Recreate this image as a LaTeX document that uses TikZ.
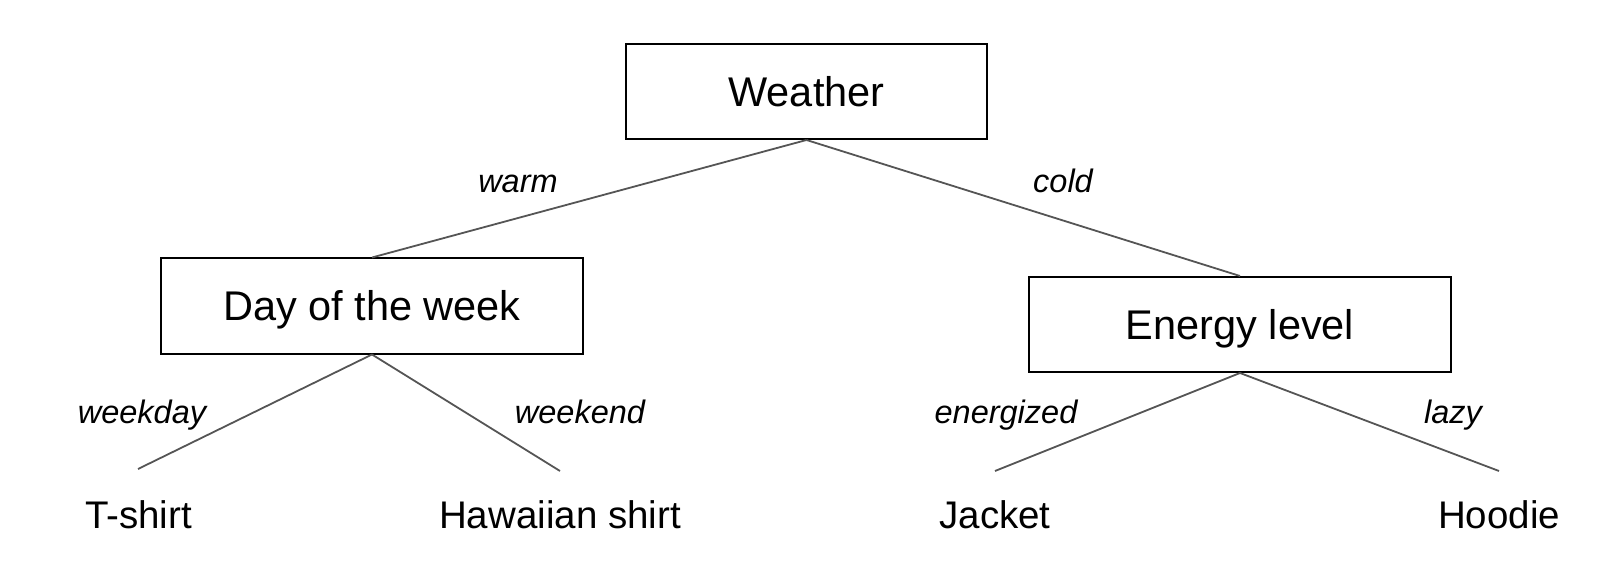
\documentclass[tikz,border=0pt]{standalone}
\usepackage{fontspec}
\setmainfont{Liberation Sans}
\definecolor{edgegray}{HTML}{555555}
\tikzset{
  decbox/.style={draw=black, line width=2pt, inner sep=0pt, minimum height=95pt,
    text height=29.7pt, text depth=0pt,
    font=\fontsize{41.5}{50}\selectfont},
  leaf/.style={inner sep=0pt, font=\fontsize{38.5}{46}\selectfont},
  elabel/.style={inner sep=0pt, font=\fontsize{32.5}{39}\selectfont\itshape},
  edge/.style={draw=edgegray, line width=1.8pt}
}
\begin{document}
\begin{tikzpicture}[x=1pt,y=-1pt]
\useasboundingbox (0,0) rectangle (1610,580);
% decision nodes
\node[decbox, minimum width=361pt] (weather) at (806.5,91.5) {Weather};
\node[decbox, minimum width=422pt] (day) at (372,306) {Day of the week};
\node[decbox, minimum width=422pt] (energy) at (1240,324.5) {Energy level};
% leaf end points
\coordinate (e1) at (138,469);
\coordinate (e2) at (560,471);
\coordinate (e3) at (995,471);
\coordinate (e4) at (1499,471);
% leaves
\node[leaf, anchor=base] (tshirt) at (138.5,528) {T-shirt};
\node[leaf, anchor=base] (hawaii) at (560,528) {Hawaiian shirt};
\node[leaf, anchor=base] (jacket) at (995,528) {Jacket};
\node[leaf, anchor=base] (hoodie) at (1499,528) {Hoodie};
% connectors
\draw[edge] (weather.south) -- (day.north);
\draw[edge] (weather.south) -- (energy.north);
\draw[edge] (day.south) -- (e1);
\draw[edge] (day.south) -- (e2);
\draw[edge] (energy.south) -- (e3);
\draw[edge] (energy.south) -- (e4);
% edge labels
\node[elabel, anchor=base] (lwarm) at (518,193) {warm};
\node[elabel, anchor=base] (lcold) at (1063,193) {cold};
\node[elabel, anchor=base] (lwkd) at (142,423) {weekday};
\node[elabel, anchor=base] (lwke) at (580,423) {weekend};
\node[elabel, anchor=base] (lene) at (1006,423) {energized};
\node[elabel, anchor=base] (llazy) at (1453,423) {lazy};
\end{tikzpicture}
\end{document}
